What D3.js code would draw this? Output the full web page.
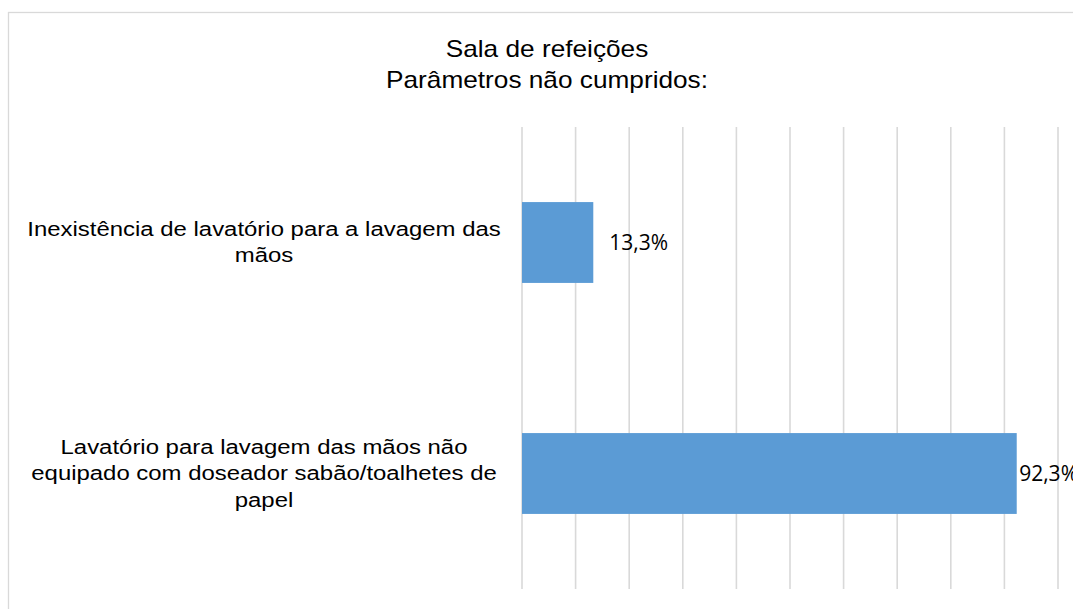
<!DOCTYPE html>
<html>
<head>
<meta charset="utf-8">
<script src="https://cdn.jsdelivr.net/npm/d3@7"></script>
<style>
  html, body { margin: 0; padding: 0; background: #fff; }
  svg { display: block; }
</style>
</head>
<body>
<svg id="chart" width="1073" height="609"></svg>
<script>
// ---- data ----
const titleLines = ["Sala de refeições", "Parâmetros não cumpridos:"];
const categories = [
  "Inexistência de lavatório para a lavagem das mãos",
  "Lavatório para lavagem das mãos não equipado com doseador sabão/toalhetes de papel"
];
const values = [13.3, 92.3];
const tickValues = [0, 10, 20, 30, 40, 50, 60, 70, 80, 90, 100];

// ---- layout ----
const W = 1073, H = 609;
const sx = 1.14; // horizontal stretch of the reference picture
const svg = d3.select("#chart");

// chart frame
svg.append("rect")
  .attr("x", 8.5).attr("y", 12.5)
  .attr("width", 1100).attr("height", 700)
  .attr("fill", "#fff").attr("stroke", "#d9d9d9").attr("stroke-width", 1.3);

const x = d3.scaleLinear().domain([0, 100]).range([522, 1058]);
const y = d3.scaleBand().domain(categories).range([127, 589])
  .paddingInner(0.65).paddingOuter(0.325);

// gridlines
svg.append("g").selectAll("line").data(tickValues).join("line")
  .attr("x1", d => x(d)).attr("x2", d => x(d))
  .attr("y1", 127).attr("y2", 589)
  .attr("stroke", "#d9d9d9").attr("stroke-width", 1.6);

// bars
svg.append("g").selectAll("rect").data(values).join("rect")
  .attr("x", x(0))
  .attr("y", (d, i) => y(categories[i]))
  .attr("width", d => x(d) - x(0))
  .attr("height", y.bandwidth())
  .attr("fill", "#5b9bd5");

// data labels
const fmt = v => v.toFixed(1).replace(".", ",") + "%";
const chartRight = 1078;
svg.append("g").selectAll("text").data(values).join("text")
  .attr("font-family", "'Open Sans', sans-serif")
  .attr("font-size", 21)
  .attr("fill", "#000")
  .attr("y", (d, i) => y(categories[i]) + y.bandwidth() / 2 + 7.5)
  .text(fmt)
  .each(function (d) {
    const w = this.getComputedTextLength();
    d3.select(this).attr("x", Math.min(x(d) + 16, chartRight - w));
  });

// title
const title = svg.append("g").attr("transform", `translate(547,0) scale(${sx},1)`);
title.selectAll("text").data(titleLines).join("text")
  .attr("x", 0)
  .attr("y", (d, i) => 56.7 + i * 31.6)
  .attr("text-anchor", "middle")
  .attr("font-family", "'Liberation Sans', Arial, sans-serif")
  .attr("font-size", 23)
  .attr("fill", "#000")
  .text(d => d);

// category labels (wrapped)
const labelCx = 264, maxW = 490, lh = 26.3, fs = 21;
const labG = svg.append("g").attr("transform", `translate(${labelCx},0) scale(${sx},1)`);
categories.forEach(cat => {
  const t = labG.append("text")
    .attr("text-anchor", "middle")
    .attr("font-family", "'Liberation Sans', Arial, sans-serif")
    .attr("font-size", fs)
    .attr("fill", "#000");
  const words = cat.split(" ");
  const lines = [];
  let cur = "";
  const probe = t.append("tspan");
  words.forEach(w => {
    const test = cur ? cur + " " + w : w;
    probe.text(test);
    if (probe.node().getComputedTextLength() * sx > maxW && cur) {
      lines.push(cur);
      cur = w;
    } else {
      cur = test;
    }
  });
  if (cur) lines.push(cur);
  probe.remove();
  const cy = y(cat) + y.bandwidth() / 2;
  lines.forEach((ln, i) => {
    t.append("tspan")
      .attr("x", 0)
      .attr("y", cy + (i - (lines.length - 1) / 2) * lh + 6.85)
      .text(ln);
  });
});
</script>
</body>
</html>
